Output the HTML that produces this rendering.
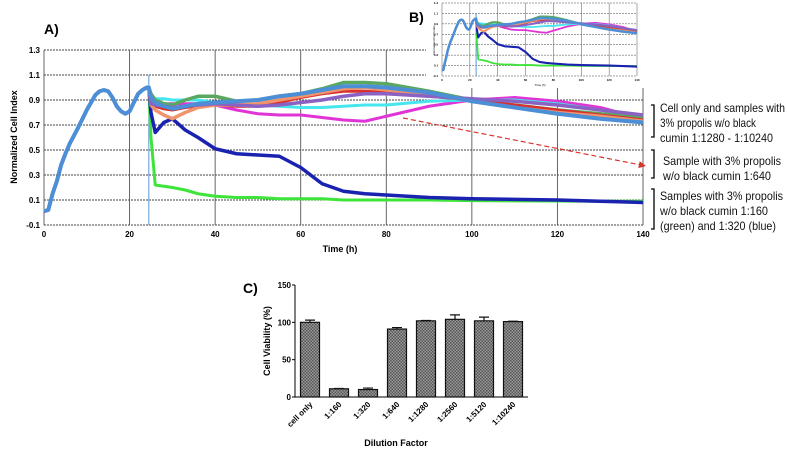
<!DOCTYPE html>
<html><head><meta charset="utf-8"><style>
body{margin:0;background:#fff;}
svg{display:block;font-family:"Liberation Sans",sans-serif;}
</style></head><body>
<svg id="fig" width="787" height="452" viewBox="0 0 787 452">
<defs>
<pattern id="chk" width="3" height="3" patternUnits="userSpaceOnUse"><rect width="3" height="3" fill="#9a9a9a"/><rect width="1.5" height="1.5" fill="#555"/><rect x="1.5" y="1.5" width="1.5" height="1.5" fill="#555"/></pattern>
<marker id="arr" markerWidth="8" markerHeight="8" refX="6" refY="3" orient="auto"><path d="M0,0 L6,3 L0,6 z" fill="#d9342b"/></marker>
</defs>
<text x="44" y="34" font-size="14" font-weight="bold">A)</text>
<text x="409" y="22" font-size="14" font-weight="bold">B)</text>
<text x="243" y="293" font-size="14" font-weight="bold">C)</text>
<g id="main"></g>
<g id="inset"></g>
<g id="bars"></g>
<g font-size="12" fill="#111">
<path d="M651,105 h3 v32 h-3" stroke="#000" stroke-width="1.3" fill="none"/>
<text y="112"><tspan x="660" textLength="125" lengthAdjust="spacingAndGlyphs">Cell only and samples with</tspan><tspan x="660" dy="15" textLength="96" lengthAdjust="spacingAndGlyphs">3% propolis w/o black</tspan><tspan x="660" dy="15" textLength="113" lengthAdjust="spacingAndGlyphs">cumin 1:1280 - 1:10240</tspan></text>
<path d="M651,150 h3 v28 h-3" stroke="#000" stroke-width="1.3" fill="none"/>
<text y="165"><tspan x="663" textLength="118" lengthAdjust="spacingAndGlyphs">Sample with 3% propolis</tspan><tspan x="663" dy="15" textLength="108" lengthAdjust="spacingAndGlyphs">w/o black cumin 1:640</tspan></text>
<path d="M651,189 h3 v40 h-3" stroke="#000" stroke-width="1.3" fill="none"/>
<text y="200"><tspan x="660" textLength="123" lengthAdjust="spacingAndGlyphs">Samples with 3% propolis</tspan><tspan x="660" dy="15" textLength="108" lengthAdjust="spacingAndGlyphs">w/o black cumin 1:160</tspan><tspan x="660" dy="15" textLength="116" lengthAdjust="spacingAndGlyphs">(green) and 1:320 (blue)</tspan></text>
<line x1="403" y1="118" x2="646" y2="166" stroke="#d9342b" stroke-width="1.2" stroke-dasharray="5,3" marker-end="url(#arr)"/>
</g>
</svg>
<script>
const NS="http://www.w3.org/2000/svg";
const preT=[0,1,2,3,4,5,6,8,10,12,13,14,15,16,17,18,19,20,21,22,23,24,24.5];
const preV=[0.01,0.02,0.15,0.25,0.38,0.47,0.55,0.68,0.82,0.94,0.97,0.98,0.97,0.92,0.85,0.81,0.79,0.81,0.88,0.95,0.98,1.0,1.0];
const postT=[25,26,28,30,33,36,40,45,50,55,60,65,70,75,80,90,100,110,120,130,140];
const sGreen160=[0.6,0.22,0.21,0.2,0.18,0.15,0.13,0.12,0.12,0.11,0.11,0.11,0.1,0.1,0.1,0.1,0.095,0.093,0.092,0.09,0.09];
const sBlue320=[0.8,0.64,0.72,0.75,0.66,0.6,0.51,0.47,0.46,0.45,0.36,0.23,0.17,0.15,0.14,0.12,0.11,0.105,0.1,0.09,0.08];
const sMagenta=[0.86,0.87,0.87,0.87,0.87,0.87,0.86,0.82,0.79,0.78,0.78,0.76,0.74,0.73,0.77,0.85,0.9,0.92,0.89,0.84,0.75];
const sCyan=[0.9,0.91,0.91,0.9,0.9,0.9,0.88,0.87,0.86,0.85,0.84,0.84,0.85,0.86,0.86,0.89,0.9,0.9,0.87,0.82,0.77];
const sGreen=[0.95,0.9,0.87,0.86,0.9,0.93,0.93,0.89,0.9,0.93,0.95,0.99,1.04,1.04,1.03,0.97,0.9,0.86,0.82,0.79,0.76];
const sRed=[0.88,0.85,0.83,0.82,0.84,0.85,0.86,0.85,0.85,0.88,0.92,0.95,0.97,0.97,0.96,0.93,0.9,0.86,0.82,0.78,0.74];
const sOrange=[0.86,0.82,0.78,0.75,0.8,0.84,0.86,0.86,0.87,0.9,0.93,0.96,0.99,1.0,0.98,0.95,0.89,0.84,0.8,0.77,0.73];
const sPurple=[0.87,0.86,0.85,0.84,0.85,0.86,0.87,0.86,0.85,0.86,0.88,0.9,0.93,0.95,0.95,0.93,0.91,0.89,0.86,0.82,0.78];
const sSteel=[0.92,0.88,0.85,0.83,0.85,0.87,0.88,0.89,0.9,0.93,0.95,0.98,1.01,1.01,1.0,0.96,0.89,0.84,0.79,0.75,0.72];
const series=[["green-1-160",sGreen160,"#3ee43a",3],["blue-1-320",sBlue320,"#1a22b0",3.5],["magenta-1-640",sMagenta,"#e034d6",3],["cyan",sCyan,"#46e6ee",3],["green",sGreen,"#5aa860",3.5],["red",sRed,"#d8302c",3],["orange",sOrange,"#f0946c",3.5],["purple",sPurple,"#8a62c4",3.5],["steelblue",sSteel,"#4c8fd6",4]];
const yTicks=["1.3","1.1","0.9","0.7","0.5","0.3","0.1","-0.1"];
const xTicks=[0,20,40,60,80,100,120,140];
const barCats=["cell only","1:160","1:320","1:640","1:1280","1:2560","1:5120","1:10240"];
const barVals=[100,11,10,91,102,104,102,101];
const barErr=[3,0.5,2,2,0.5,6,5,0.5];
const barTicks=[0,50,100,150];

function el(tag,attrs,parent,text){const e=document.createElementNS(NS,tag);for(const k in attrs)e.setAttribute(k,attrs[k]);if(text!=null)e.textContent=text;parent.appendChild(e);return e;}

function drawLine(g,x0,x1,y0,y1,small){
  const X=t=>x0+(t/140)*(x1-x0), Y=v=>y1-((v+0.1)/1.4)*(y1-y0);
  for(const v of yTicks){const l=el("line",{x1:x0,x2:x1,y1:Y(+v),y2:Y(+v),stroke:"#444","stroke-width":small?0.5:0.9,"stroke-dasharray":"2,1"},g);
    const t=el("text",{x:x0-4,y:Y(+v)+(small?1:3),"text-anchor":"end","font-size":small?3:8,"font-weight":"bold"},g,v);}
  for(const v of xTicks){const l=el("line",{x1:X(v),x2:X(v),y1:y0,y2:y1,stroke:"#555","stroke-width":small?0.5:0.9},g);
    const t=el("text",{x:X(v),y:y1+(small?5:12),"text-anchor":"middle","font-size":small?3:8,"font-weight":"bold"},g,String(v));}
  const vl=el("line",{x1:X(24.5),x2:X(24.5),y1:Y(1.1),y2:Y(-0.1),stroke:"#5a9ad6","stroke-width":1},g);
  const sc=small?0.6:1;
  for(const [name,vals,col,w] of series){
    let pts=preT.map((t,i)=>X(t)+","+Y(preV[i]));
    pts=pts.concat(postT.map((t,i)=>X(t)+","+Y(vals[i])));
    const p=el("polyline",{points:pts.join(" "),fill:"none",stroke:col,"stroke-width":w*sc,"stroke-linejoin":"round"},g);
    
  }
}
const main=document.getElementById("main"), inset=document.getElementById("inset");
drawLine(main,44,643,50,225,false);
const yt=el("text",{x:0,y:0,transform:"translate(17,137) rotate(-90)","text-anchor":"middle","font-size":9,"font-weight":"bold"},main,"Normalized Cell Index");
const xt=el("text",{x:340,y:252,"text-anchor":"middle","font-size":9,"font-weight":"bold"},main,"Time (h)");
el("rect",{x:426,y:0,width:219,height:88,fill:"#fff"},inset);
drawLine(inset,442,637,3,76,true);
const it=el("text",{x:0,y:0,transform:"translate(435,40) rotate(-90)","text-anchor":"middle","font-size":3},inset,"Normalized Cell Index");
const ix=el("text",{x:540,y:86,"text-anchor":"middle","font-size":3},inset,"Time (h)");

const bars=document.getElementById("bars");
const bx0=295,bx1=528,by0=397,by1=285;
const BY=v=>by0-(v/150)*(by0-by1);
el("line",{x1:bx0,x2:bx0,y1:by1,y2:by0,stroke:"#000","stroke-width":1},bars);
el("line",{x1:bx0,x2:bx1,y1:by0,y2:by0,stroke:"#000","stroke-width":1},bars);
for(const v of barTicks){el("line",{x1:bx0-3,x2:bx0,y1:BY(v),y2:BY(v),stroke:"#000"},bars);
  const t=el("text",{x:bx0-4,y:BY(v)+3,"text-anchor":"end","font-size":8,"font-weight":"bold"},bars,String(v));}
const step=29;
barCats.forEach((c,i)=>{const cx=bx0+15+i*step;
  const r=el("rect",{x:cx-9.5,y:BY(barVals[i]),width:19,height:by0-BY(barVals[i]),fill:"url(#chk)",stroke:"#111","stroke-width":1.2},bars);
  
  const e=el("path",{d:`M${cx},${BY(barVals[i])} V${BY(barVals[i]+barErr[i])} M${cx-5},${BY(barVals[i]+barErr[i])} H${cx+5}`,stroke:"#111","stroke-width":1.2,fill:"none"},bars);
  
  const t=el("text",{x:0,y:0,transform:`translate(${cx+3},${by0+8}) rotate(-45)`,"text-anchor":"end","font-size":8,"font-weight":"bold"},bars,c);
  
});
const byt=el("text",{x:0,y:0,transform:"translate(270,341) rotate(-90)","text-anchor":"middle","font-size":9,"font-weight":"bold"},bars,"Cell Viability (%)");
const bxt=el("text",{x:396,y:446,"text-anchor":"middle","font-size":9,"font-weight":"bold"},bars,"Dilution Factor");
</script>
</body></html>
